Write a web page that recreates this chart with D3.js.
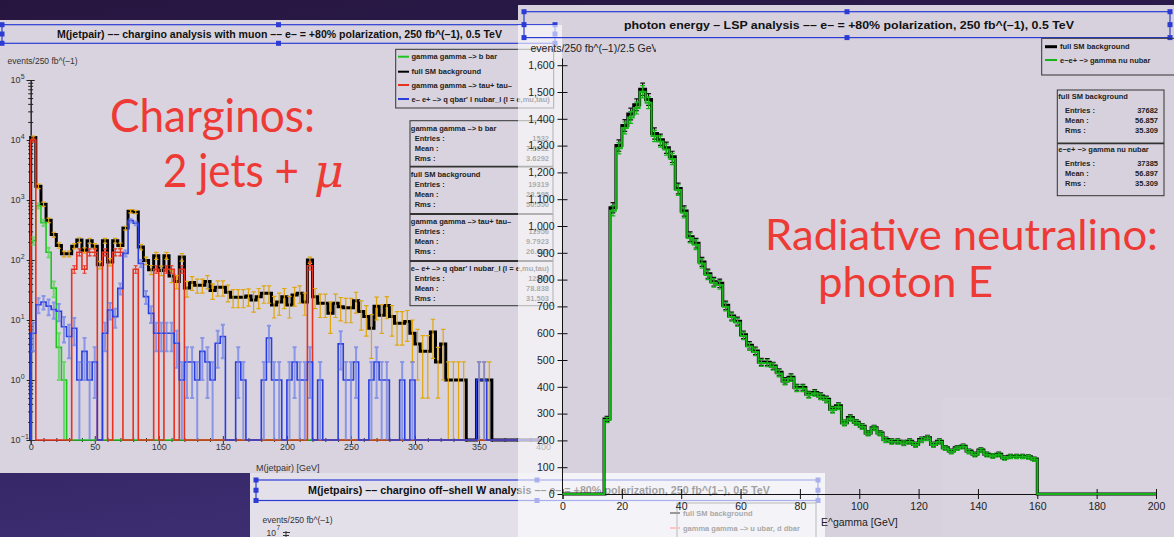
<!DOCTYPE html>
<html>
<head>
<meta charset="utf-8">
<script src="https://cdn.jsdelivr.net/npm/d3@7/dist/d3.min.js"></script>
<style>
html,body{margin:0;padding:0;background:#2a1a4c;}
svg{display:block;}
</style>
</head>
<body>
<svg id="slide" width="1174" height="537"></svg>
<script>
// ---------------- M(jetpair): 4 GeV bins, 0 - 400 GeV ----------------
const massLo = 0, massBin = 4;
const smMass = [11000,1700,850,460,265,175,127,127,170,215,
  145,210,170,83,210,93,210,175,340,650,
  630,165,98,69,118,67,118,54,44,112,
  34,42,38,38,44,31,35,35,29,24,
  24,24,25,21.5,24.5,28,28,17.8,20,24.5,
  17.8,26,28,20,100,24.5,19,19,13,19,
  16.7,16,16,21,13.8,11.4,7.3,17,12,17.5,
  11.4,8.8,8.8,9.4,6,4,3,3,6.3,2,
  4,1,1,1,1,0,0,1,1,1,
  0,0,0,0,0,0,0,0,0,0];
const smMassErr = [600,150,70,40,25,18,14,14,17,20,
  15,20,17,12,20,13,20,17,25,40,
  40,17,14,12,16,12,16,12,11,16,
  10,11,10,10,11,9,10,10,9,8,
  8,8,8,8,9,9,9,7,8,9,
  7,9,9,8,12,9,8,8,7,8,
  7,7,7,8,7,6,5,7,6,7,
  6,5,5,5,4,3,2.5,2.5,4,1.5,
  3,1,1,1,1,0,0,1,1,1,
  0,0,0,0,0,0,0,0,0,0];
const bbMass = [210,800,420,135,34,3.5,1,0,0,0,
  0,0,0,0,0,0,0,0,0,0, 0,0,0,0,0,0,0,0,0,0,
  0,0,0,0,0,0,0,0,0,0, 0,0,0,0,0,0,0,0,0,0,
  0,0,0,0,0,0,0,0,0,0, 0,0,0,0,0,0,0,0,0,0,
  0,0,0,0,0,0,0,0,0,0, 0,0,0,0,0,0,0,0,0,0,
  0,0,0,0,0,0,0,0,0,0];
const bbMassErr = [30,80,50,25,10,2.5,1,0,0,0,
  0,0,0,0,0,0,0,0,0,0, 0,0,0,0,0,0,0,0,0,0,
  0,0,0,0,0,0,0,0,0,0, 0,0,0,0,0,0,0,0,0,0,
  0,0,0,0,0,0,0,0,0,0, 0,0,0,0,0,0,0,0,0,0,
  0,0,0,0,0,0,0,0,0,0, 0,0,0,0,0,0,0,0,0,0,
  0,0,0,0,0,0,0,0,0,0];
const tauMass = [10000,0,0,0,0,0,0,0,70,135,
  70,135,135,0,135,0,135,135,0,0,
  70,0,0,0,70,0,70,70,0,70,
  0,0,0,0,0,0,0,0,0,0, 0,0,0,0,0,0,0,0,0,0,
  0,0,0,0,80,0,0,0,0,0,
  0,0,0,0,0,0,0,0,0,0, 0,0,0,0,0,0,0,0,0,0,
  0,0,0,0,0,0,0,0,0,0, 0,0,0,0,0,0,0,0,0,0];
const tauMassErr = [800,0,0,0,0,0,0,0,10,18,
  10,18,18,0,18,0,18,18,0,0,
  10,0,0,0,10,0,10,10,0,10,
  0,0,0,0,0,0,0,0,0,0, 0,0,0,0,0,0,0,0,0,0,
  0,0,0,0,12,0,0,0,0,0,
  0,0,0,0,0,0,0,0,0,0, 0,0,0,0,0,0,0,0,0,0,
  0,0,0,0,0,0,0,0,0,0, 0,0,0,0,0,0,0,0,0,0];
const qqlnMass = [6,18,20,17,15,14,7.7,5.3,7.3,1,
  3,1,2,0,6,14.7,11.4,33.7,129,453,
  409,88,24.5,12.9,6,6,6,6,4.1,1,
  2,2,1,3,2,1,4.1,5.3,0,0,
  2,1,0,0,0,1,5,1,1,0,
  1,2,1,1,2,0,1,0,0,0,
  4,1,1,2,0,0,1,2,1,1,
  0,0,1,0,1,0,0,0,0,0,
  0,0,0,0,0,0,0,1,1,0,
  0,0,0,0,0,0,0,0,0,0];
const qqlnMassErr = [3,5,5,5,4.5,4.5,3.5,3,3.5,1,
  2,1,1.5,0,3,4.5,4,7,15,30,
  28,12,6,4,3,3,3,3,2.5,1,
  1.5,1.5,1,2,1.5,1,2.5,3,0,0,
  1.5,1,0,0,0,1,3,1,1,0,
  1,1.5,1,1,1.5,0,1,0,0,0,
  2.5,1,1,1.5,0,0,1,1.5,1,1,
  0,0,1,0,1,0,0,0,0,0,
  0,0,0,0,0,0,0,1,1,0,
  0,0,0,0,0,0,0,0,0,0];
const massTicks = [0,50,100,150,200,250,300,350,400];
const massDecades = [-1,0,1,2,3,4,5];

// ---------------- photon energy: 2 GeV bins, 0 - 200 GeV ----------------
const photonLo = 0, photonBin = 2;
const photonSM = [0,0,0,0,0,0,0,
  280,1068,1300,1375,1418,1452,1510,1472,1345,1322,
  1292,1258,1140,1056,960,936,866,822,792,786,
  704,664,645,594,555,534,493,492,478,454,
  422,436,397,397,372,379,366,354,316,329,
  266,285,268,253,228,247,228,203,197,197,
  191,197,185,203,210,185,197,173,160,173,
  178,160,148,164,148,143,148,135,141,141,
  141,139,131,
  0,0,0,0,0,0,0,0,0,0,0,0,0,0,0,0,0,0,0,0];
const photonSignal = [0,0,0,0,0,0,0,
  276,1057,1290,1366,1405,1440,1501,1460,1336,1315,
  1285,1250,1134,1049,955,930,860,817,788,780,
  699,660,640,590,550,530,489,488,475,450,
  419,432,394,394,369,376,363,351,313,326,
  264,282,266,251,226,245,226,201,195,195,
  189,195,183,201,208,183,195,171,158,171,
  176,158,146,162,146,142,146,133,139,139,
  139,137,129,
  0,0,0,0,0,0,0,0,0,0,0,0,0,0,0,0,0,0,0,0];
const photonErr = [0,0,0,0,0,0,0,
  10,19,21,22,22,22,23,22,21,21,
  21,21,20,19,18,18,17,17,16,16,
  16,15,15,14,14,14,13,13,13,13,
  12,12,12,12,11,11,11,11,11,11,
  10,10,10,10,9,9,9,9,9,9,
  9,9,9,9,9,9,9,8,8,8,
  8,8,8,8,8,8,8,7,7,7,
  7,7,7,
  0,0,0,0,0,0,0,0,0,0,0,0,0,0,0,0,0,0,0,0];
const photonTicksX = [0,20,40,60,80,100,120,140,160,180,200];
const photonTicksY = [0,100,200,300,400,500,600,700,800,900,1000,1100,1200,1300,1400,1500,1600];

// ---------------- fonts & colours ----------------
const ROOT = "'Liberation Sans', Arial, Helvetica, sans-serif";
const SLIDE = "Lato, 'Open Sans', sans-serif";
const HANDLE = "#2b3bd4";
const C_BLACK = "#000", C_GREEN = "#1fc41f", C_RED = "#e8321e", C_BLUE = "#2a3ee0", C_YELLOW = "#e0a60c";
const C_PHOTON = "#16b416";

const svg = d3.select("#slide");
const defs = svg.append("defs");
const grad = defs.append("linearGradient").attr("id","bg").attr("x1",0).attr("y1",0).attr("x2",0.3).attr("y2",1);
grad.append("stop").attr("offset",0).attr("stop-color","#26163f");
grad.append("stop").attr("offset",0.6).attr("stop-color","#2f1f5a");
grad.append("stop").attr("offset",1).attr("stop-color","#3e2f74");
svg.append("rect").attr("width",1174).attr("height",537).attr("fill","url(#bg)");

// ---------- helpers ----------
function txt(g, x, y, s, o = {}) {
  const t = g.append("text").attr("x", x).attr("y", y).text(s)
    .attr("font-family", o.family || ROOT).attr("font-size", o.size || 8)
    .attr("font-weight", o.weight || "normal").attr("fill", o.fill || "#222")
    .attr("text-anchor", o.anchor || "start");
  if (o.len) t.attr("textLength", o.len).attr("lengthAdjust", "spacingAndGlyphs");
  if (o.style) t.attr("font-style", o.style);
  return t;
}
function titleBox(g, x0, y0, x1, y1, title, tx, tlen, size) {
  g.append("rect").attr("x", x0).attr("y", y0).attr("width", x1 - x0).attr("height", y1 - y0)
    .attr("fill", "none").attr("stroke", HANDLE).attr("stroke-width", 1.2);
  const xm = (x0 + x1) / 2, ym = (y0 + y1) / 2;
  const hs = [[x0,y0],[x0,ym],[x0,y1],[xm,y0],[xm,y1],[x1,y0],[x1,ym],[x1,y1]];
  g.selectAll(null).data(hs).join("rect")
    .attr("x", d => d[0] - 2.5).attr("y", d => d[1] - 2.5).attr("width", 5).attr("height", 5).attr("fill", HANDLE);
  txt(g, tx, ym + size * 0.36, title, {size, weight: "bold", len: tlen, fill: "#111"});
}
function stepPoints(values, lo, w, xS, yS, floorY) {
  const pts = [[xS(lo), floorY]];
  values.forEach((v, i) => {
    const yy = v > 0 ? yS(v) : floorY;
    pts.push([xS(lo + i * w), yy], [xS(lo + (i + 1) * w), yy]);
  });
  pts.push([xS(lo + values.length * w), floorY]);
  return pts;
}
function drawHist(g, values, lo, w, xS, yS, floorY, color, width) {
  g.append("path").attr("d", d3.line()(stepPoints(values, lo, w, xS, yS, floorY)))
    .attr("fill", "none").attr("stroke", color).attr("stroke-width", width).attr("stroke-linejoin", "miter");
}
function drawErrors(g, values, errs, lo, w, xS, yS, floorV, floorY, color, cap, width, opacity = 1) {
  const data = values.map((v, i) => ({v, e: errs[i], i})).filter(d => d.v > 0 && d.e > 0);
  g.append("g").selectAll("path").data(data).join("path")
    .attr("d", d => {
      const cx = xS(lo + (d.i + 0.5) * w);
      const top = yS(d.v + d.e);
      const low = d.v - d.e;
      const bot = low > floorV ? yS(low) : floorY;
      let p = `M${cx},${bot}V${top}M${cx - cap},${top}H${cx + cap}`;
      if (low > floorV) p += `M${cx - cap},${bot}H${cx + cap}`;
      return p;
    })
    .attr("fill", "none").attr("stroke", color).attr("stroke-width", width).attr("opacity", opacity);
}

// ---------- pad backgrounds ----------
svg.append("rect").attr("x", 518).attr("y", 5).attr("width", 656).attr("height", 532).attr("fill", "#d6d1dd");
svg.append("rect").attr("x", 943).attr("y", 397).attr("width", 231).attr("height", 140).attr("fill", "#fff").attr("opacity", 0.05);
svg.append("rect").attr("x", 0).attr("y", 20).attr("width", 562).attr("height", 453).attr("fill", "#d8d3df");

// =============== Pad 1: M(jetpair), log scale ===============
const p1 = svg.append("g");
const x1 = d3.scaleLinear().domain([0, 400]).range([30.7, 543.1]);
const y1 = d3.scaleLog().domain([0.1, 1e5]).range([440, 80]);
const floor1 = y1(0.1);

titleBox(p1, 2, 24.7, 555, 43.3,
  "M(jetpair) –– chargino analysis with muon –– e– = +80% polarization, 250 fb^(–1), 0.5 TeV", 57, 445, 11);
txt(p1, 7.5, 64, "events/250 fb^(–1)", {size: 8.5, fill: "#333"});

// y axis with major/minor log ticks
const minor1 = [];
massDecades.slice(0, -1).forEach(d => { for (let m = 2; m <= 9; m++) minor1.push(m * Math.pow(10, d)); });
const yAx1 = p1.append("g").attr("transform", `translate(${x1(0)},0)`);
yAx1.call(d3.axisLeft(y1).tickValues(massDecades.map(d => Math.pow(10, d))).tickFormat(() => "").tickSizeOuter(0).tickSize(4));
yAx1.append("g").call(d3.axisLeft(y1).tickValues(minor1).tickFormat(() => "").tickSizeOuter(0).tickSize(2.5));
yAx1.selectAll(".tick line").attr("x1", function () { return -d3.select(this).attr("x2"); });
yAx1.selectAll("path.domain").attr("stroke", "#222");
yAx1.selectAll("line").attr("stroke", "#222");
p1.append("g").selectAll("text").data(massDecades).join("text")
  .attr("x", 20.5).attr("y", d => y1(Math.pow(10, d)) + 3.2)
  .attr("text-anchor", "end").attr("font-family", ROOT).attr("font-size", 9).attr("fill", "#333").text("10");
p1.append("g").selectAll("text").data(massDecades).join("text")
  .attr("x", 20.8).attr("y", d => y1(Math.pow(10, d)) - 1.5)
  .attr("font-family", ROOT).attr("font-size", 7).attr("fill", "#333").text(d => d < 0 ? "−1" : String(d));

// x axis
const xAx1 = p1.append("g").attr("transform", `translate(0,${floor1})`);
xAx1.call(d3.axisBottom(x1).tickValues(massTicks).tickFormat(d3.format("d")).tickSizeOuter(0).tickSize(4));
xAx1.append("g").call(d3.axisBottom(x1).tickValues(d3.range(10, 400, 10).filter(v => v % 50)).tickFormat(() => "").tickSizeOuter(0).tickSize(2));
xAx1.selectAll(".tick line").attr("y1", function () { return -d3.select(this).attr("y2"); });
xAx1.selectAll("path.domain, line").attr("stroke", "#333");
xAx1.selectAll("text").attr("font-family", ROOT).attr("font-size", 9).attr("fill", "#333").attr("dy", "0.3em");
txt(p1, 256, 471, "M(jetpair) [GeV]", {size: 9, fill: "#333"});

// histograms
const h1 = p1.append("g");
drawHist(h1, smMass, massLo, massBin, x1, y1, floor1, C_BLACK, 3);
drawErrors(h1, smMass, smMassErr, massLo, massBin, x1, y1, 0.1, floor1, C_YELLOW, 2.2, 1.2);
drawHist(h1, bbMass, massLo, massBin, x1, y1, floor1, C_GREEN, 1.6);
drawErrors(h1, bbMass, bbMassErr, massLo, massBin, x1, y1, 0.1, floor1, "#5ad45a", 2, 2, 0.8);
drawHist(h1, tauMass, massLo, massBin, x1, y1, floor1, C_RED, 1.6);
drawErrors(h1, tauMass, tauMassErr, massLo, massBin, x1, y1, 0.1, floor1, C_RED, 2, 1.1);
drawHist(h1, qqlnMass, massLo, massBin, x1, y1, floor1, C_BLUE, 1.6);
drawErrors(h1, qqlnMass, qqlnMassErr, massLo, massBin, x1, y1, 0.1, floor1, "#6f80e8", 2, 2, 0.75);

// legend
const leg1 = p1.append("g");
leg1.append("rect").attr("x", 395.7).attr("y", 49.3).attr("width", 158).attr("height", 58.7)
  .attr("fill", "none").attr("stroke", "#333").attr("stroke-width", 1);
const leg1Items = [
  {label: "gamma gamma –> b bar", color: C_GREEN, y: 56.7},
  {label: "full SM background", color: C_BLACK, y: 71.7},
  {label: "gamma gamma –> tau+ tau–", color: C_RED, y: 85},
  {label: "e– e+ –> q qbar' l nubar_l (l = e,mu,tau)", color: C_BLUE, y: 99}
];
leg1Items.forEach(d => {
  leg1.append("line").attr("x1", 398).attr("x2", 409).attr("y1", d.y).attr("y2", d.y).attr("stroke", d.color).attr("stroke-width", 2);
  txt(leg1, 411.5, d.y + 2.7, d.label, {size: 7.5, weight: "bold"});
});

// statistics boxes
const stats1 = [
  {name: "gamma gamma –> b bar", entries: "1532", mean: "7.5612", rms: "3.6292"},
  {name: "full SM background", entries: "19319", mean: "28.595", rms: "50.550"},
  {name: "gamma gamma –> tau+ tau–", entries: "11956", mean: "9.7923", rms: "26.033"},
  {name: "e– e+ –> q qbar' l nubar_l (l = e,mu,tau)", entries: "12890", mean: "78.838", rms: "31.503"}
];
const st1 = p1.append("g");
const stTop = [120.7, 166.7, 214, 261], stBottom = 305.7;
st1.append("rect").attr("x", 410).attr("y", stTop[0]).attr("width", 143).attr("height", stBottom - stTop[0])
  .attr("fill", "none").attr("stroke", "#333").attr("stroke-width", 1);
stats1.forEach((s, i) => {
  const t = stTop[i];
  if (i > 0) st1.append("line").attr("x1", 410).attr("x2", 553).attr("y1", t).attr("y2", t).attr("stroke", "#333").attr("stroke-width", 1.8);
  txt(st1, 410.8, t + 9.8, s.name, {size: 7.5, weight: "bold"});
  [["Entries :", s.entries, 19.8], ["Mean :", s.mean, 30.3], ["Rms :", s.rms, 40.3]].forEach(r => {
    txt(st1, 414.7, t + r[2], r[0], {size: 7.5, weight: "bold"});
    txt(st1, 549, t + r[2], r[1], {size: 7.5, weight: "bold", anchor: "end"});
  });
});

// slide caption
const cap1 = svg.append("g");
txt(cap1, 110, 132, "Charginos:", {family: SLIDE, size: 47, fill: "#ee3a35", len: 205});
txt(cap1, 163, 187, "2 jets +", {family: SLIDE, size: 47, fill: "#ee3a35", len: 136});
txt(cap1, 314, 187, "μ", {family: "'DejaVu Serif', 'Liberation Serif', serif", size: 46, fill: "#ee3a35", style: "italic"});

// =============== Pad 3 (behind): M(jetpairs) off-shell W ===============
const p3 = svg.append("g");
p3.append("rect").attr("x", 250).attr("y", 473).attr("width", 575).attr("height", 64).attr("fill", "#e3e0ea");
titleBox(p3, 256, 480, 818, 500.5,
  "M(jetpairs) –– chargino off–shell W analysis –– e– = +80% polarization, 250 fb^(1–), 0.5 TeV", 308, 462, 11);
txt(p3, 262.5, 523, "events/250 fb^(–1)", {size: 8.5, fill: "#333"});
txt(p3, 276, 536, "10", {size: 8.5, fill: "#333", anchor: "end"});
txt(p3, 276.5, 530, "7", {size: 6.5, fill: "#333"});
p3.append("path").attr("d", "M286,531V537M283,532.5H290M283,535.5H289").attr("stroke", "#333").attr("fill", "none");
const leg3 = p3.append("g");
leg3.append("rect").attr("x", 677).attr("y", 503).attr("width", 139).attr("height", 40).attr("fill", "none").attr("stroke", "#555");
leg3.append("line").attr("x1", 670).attr("x2", 680).attr("y1", 513).attr("y2", 513).attr("stroke", "#000").attr("stroke-width", 2);
txt(leg3, 683, 515.5, "full SM background", {size: 7.5, weight: "bold"});
leg3.append("line").attr("x1", 670).attr("x2", 680).attr("y1", 528).attr("y2", 528).attr("stroke", "#f07070").attr("stroke-width", 2);
txt(leg3, 683, 530.5, "gamma gamma –> u ubar, d dbar", {size: 7.5, weight: "bold"});

// translucent frame of pad 2 over the pads behind it
svg.append("rect").attr("x", 518).attr("y", 25).attr("width", 44).attr("height", 448).attr("fill", "#fff").attr("opacity", 0.62);
svg.append("rect").attr("x", 518).attr("y", 473).attr("width", 307).attr("height", 64).attr("fill", "#fff").attr("opacity", 0.6);

// =============== Pad 2: photon energy ===============
const p2 = svg.append("g");
const x2 = d3.scaleLinear().domain([0, 200]).range([562.5, 1156]);
const y2 = d3.scaleLinear().domain([0, 1600]).range([494, 65.2]);
const floor2 = y2(0);

titleBox(p2, 524, 11.7, 1170, 37.6,
  "photon energy – LSP analysis –– e– = +80% polarization, 250 fb^(–1), 0.5 TeV", 624, 450, 11.5);
defs.append("clipPath").attr("id", "ylab2").append("rect").attr("x", 520).attr("y", 38).attr("width", 136).attr("height", 20);
txt(p2, 530.5, 52, "events/250 fb^(–1)/2.5 GeV", {size: 10.5, fill: "#222"}).attr("clip-path", "url(#ylab2)");

const yAx2 = p2.append("g").attr("transform", `translate(${x2(0)},0)`);
yAx2.call(d3.axisLeft(y2).tickValues(photonTicksY).tickFormat(d3.format(",")).tickSizeOuter(0).tickSize(5));
yAx2.select("path.domain").attr("d", `M0,${floor2}V${y2(1625)}`);
yAx2.selectAll(".tick line").attr("x1", 5);
yAx2.selectAll("path.domain, line").attr("stroke", "#111");
yAx2.selectAll("text").attr("font-family", ROOT).attr("font-size", 10.5).attr("fill", "#222").attr("x", -8);

const xAx2 = p2.append("g").attr("transform", `translate(0,${floor2})`);
xAx2.call(d3.axisBottom(x2).tickValues(photonTicksX).tickFormat(d3.format("d")).tickSizeOuter(0).tickSize(5));
xAx2.selectAll(".tick line").attr("y1", -5);
xAx2.selectAll("path.domain, line").attr("stroke", "#111");
xAx2.selectAll("text").attr("font-family", ROOT).attr("font-size", 10.5).attr("fill", "#222").attr("dy", "0.75em");
txt(p2, 821, 526, "E^gamma [GeV]", {size: 10.5, fill: "#222"});

const h2 = p2.append("g");
drawHist(h2, photonSM, photonLo, photonBin, x2, y2, floor2, C_BLACK, 3);
drawErrors(h2, photonSM, photonErr, photonLo, photonBin, x2, y2, 0, floor2, "#111", 2.4, 1.2);
drawHist(h2, photonSignal, photonLo, photonBin, x2, y2, floor2, C_PHOTON, 2);
drawErrors(h2, photonSignal, photonErr, photonLo, photonBin, x2, y2, 0, floor2, C_PHOTON, 2.4, 1.2);

// legend
const leg2 = p2.append("g");
leg2.append("rect").attr("x", 1041.7).attr("y", 38.3).attr("width", 140).attr("height", 36.7)
  .attr("fill", "none").attr("stroke", "#333");
[{label: "full SM background", color: C_BLACK, y: 46.7, w: 3}, {label: "e−e+ −> gamma nu nubar", color: C_PHOTON, y: 60, w: 2}].forEach(d => {
  leg2.append("line").attr("x1", 1045).attr("x2", 1057).attr("y1", d.y).attr("y2", d.y).attr("stroke", d.color).attr("stroke-width", d.w);
  txt(leg2, 1060, d.y + 2.7, d.label, {size: 7.5, weight: "bold"});
});

const stats2 = [
  {name: "full SM background", entries: "37682", mean: "56.857", rms: "35.309"},
  {name: "e−e+ −> gamma nu nubar", entries: "37385", mean: "56.897", rms: "35.309"}
];
const st2 = p2.append("g");
const st2Top = [90, 143.3], st2Bottom = 195.7;
st2.append("rect").attr("x", 1057.3).attr("y", st2Top[0]).attr("width", 106.7).attr("height", st2Bottom - st2Top[0])
  .attr("fill", "none").attr("stroke", "#333");
stats2.forEach((s, i) => {
  const t = st2Top[i];
  if (i > 0) st2.append("line").attr("x1", 1057.3).attr("x2", 1164).attr("y1", t).attr("y2", t).attr("stroke", "#333").attr("stroke-width", 1.8);
  txt(st2, 1058.3, t + 8.5, s.name, {size: 7.5, weight: "bold"});
  [["Entries :", s.entries, 22.7], ["Mean :", s.mean, 32.7], ["Rms :", s.rms, 42.7]].forEach(r => {
    txt(st2, 1065, t + r[2], r[0], {size: 7.5, weight: "bold"});
    txt(st2, 1158, t + r[2], r[1], {size: 7.5, weight: "bold", anchor: "end"});
  });
});

const cap2 = svg.append("g");
txt(cap2, 765, 250, "Radiative neutralino:", {family: SLIDE, size: 42, fill: "#ee3a35", len: 393});
txt(cap2, 818, 297, "photon E", {family: SLIDE, size: 42, fill: "#ee3a35", len: 175});
</script>
</body>
</html>
